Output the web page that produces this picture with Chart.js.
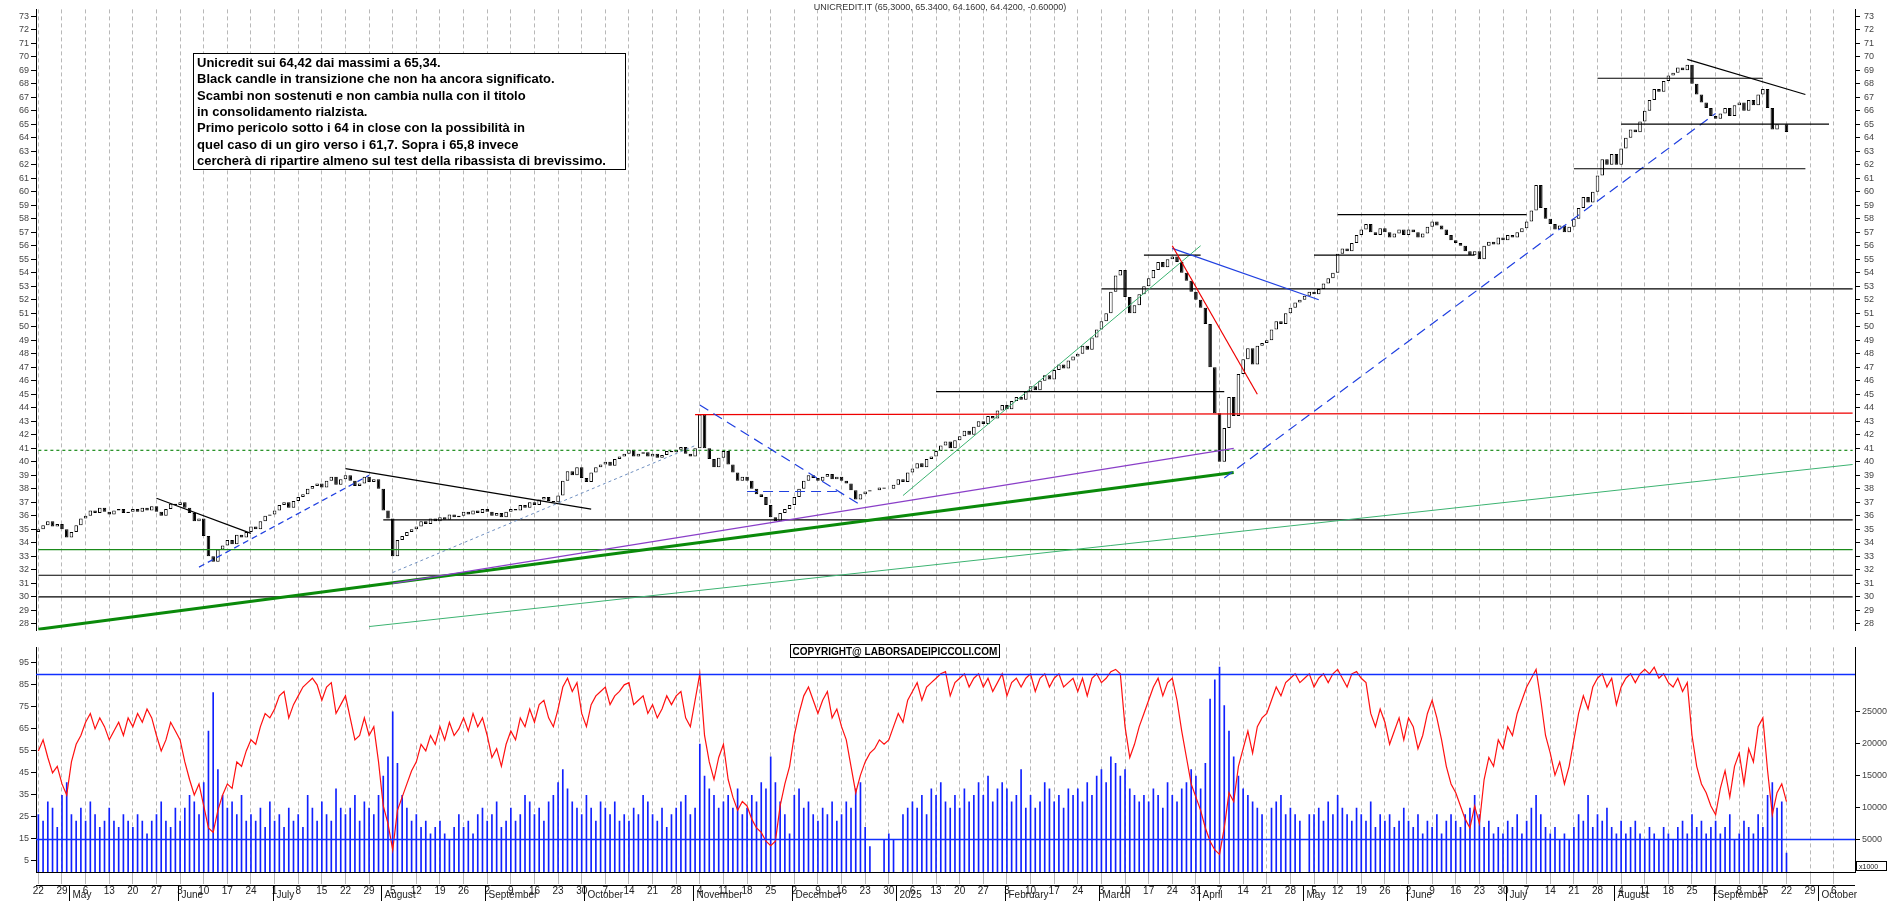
<!DOCTYPE html>
<html>
<head>
<meta charset="utf-8">
<script src="https://cdn.jsdelivr.net/npm/chart.js@4.4.1/dist/chart.umd.min.js"></script>
<style>
  body { margin: 0; background: #fff; }
  #top { position: absolute; left: 0; top: 0; }
  #bot { position: absolute; left: 0; top: 640px; }
</style>
</head>
<body>
<canvas id="top" width="1890" height="640"></canvas>
<canvas id="bot" width="1890" height="262"></canvas>
<script>
// closes, one line per week (Mon..Fri), from Mon 22 Apr 2024 to Mon 22 Sep 2025
const closes = [
  35.0,35.3,35.6,35.2,35.4, 35.0,34.4,34.8,35.3,35.8, 36.0,36.4,36.2,36.6,36.3, 36.1,36.4,36.5,36.2,36.3,
  36.5,36.3,36.6,36.4,36.7, 36.3,36.0,36.5,36.9,36.8, 37.0,36.6,36.2,35.6,35.8, 34.5,33.0,32.6,33.5,33.8,
  34.2,33.9,34.6,34.4,34.8, 35.2,35.0,35.6,36.0,36.1, 36.4,36.8,37.0,36.6,37.1, 37.4,37.6,38.0,38.2,38.4,
  38.1,38.6,38.9,38.3,38.7, 39.0,38.6,38.2,38.4,38.9, 38.5,38.7,38.0,36.4,35.8, 33.0,34.2,34.5,34.8,35.0,
  35.2,35.6,35.4,35.8,35.6, 35.9,35.7,36.1,35.9,36.0, 36.3,36.1,36.4,36.2,36.5, 36.3,36.0,36.2,35.9,36.3,
  36.5,36.4,36.8,36.6,37.0, 36.8,37.2,37.4,37.1,37.0, 37.5,38.6,39.3,39.0,39.6, 38.8,38.5,39.2,39.6,39.8,
  40.0,39.7,40.2,40.4,40.6, 40.9,40.4,40.6,40.7,40.4, 40.6,40.3,40.5,40.8,40.7, 40.9,41.1,40.6,40.4,41.0,
  43.5,41.0,40.2,39.6,40.3, 40.8,39.8,39.2,38.6,38.9, 38.6,38.0,37.6,37.4,36.8, 35.9,35.6,36.2,36.5,36.8,
  37.4,38.0,38.6,39.0,38.8, 38.6,38.9,39.1,38.7,38.9, 38.6,38.4,37.9,37.2,37.6, 37.8,37.9,37.9,38.1,38.0,
  38.0,38.3,38.7,38.5,39.2, 39.5,39.9,39.6,40.2,40.4, 40.8,41.2,41.5,41.0,41.6, 41.9,42.3,42.0,42.6,43.0,
  42.8,43.4,43.2,43.8,44.2, 43.9,44.5,44.8,44.6,45.2, 45.6,45.3,46.0,46.4,46.1, 46.8,47.2,46.9,47.5,47.8,
  48.0,48.6,48.3,49.2,49.8, 50.4,51.0,52.6,53.8,54.2, 52.2,51.0,51.6,52.4,53.0, 53.6,54.2,54.8,54.4,55.0,
  55.2,54.8,54.0,53.4,52.6, 52.0,51.4,50.2,47.0,43.6, 40.0,42.5,44.8,43.4,46.5, 47.6,48.4,47.2,48.6,48.8,
  49.0,49.8,50.4,50.2,51.0, 51.4,51.8,52.0,52.3,52.6, 52.4,52.8,53.2,53.6,54.0, 55.4,55.8,55.6,56.2,56.8,
  57.2,57.6,57.0,56.8,57.3, 57.0,56.6,56.9,57.2,56.8, 57.2,57.0,56.6,56.9,57.4, 57.8,57.5,57.2,56.8,56.4,
  56.2,56.0,55.6,55.3,55.6, 55.0,56.0,56.3,56.1,56.6, 56.4,56.8,56.6,57.0,57.3, 57.8,58.6,60.5,58.8,58.0,
  57.6,57.2,57.5,57.0,57.4, 58.0,58.8,59.6,59.2,60.0, 61.2,62.4,62.0,62.8,62.0, 63.2,64.0,64.6,64.4,65.2,
  66.0,66.8,67.6,67.4,68.2, 68.6,68.8,69.2,69.0,69.4, 68.0,67.2,66.6,66.2,65.6, 65.4,65.8,66.2,65.6,66.4,
  66.6,66.0,66.8,66.4,67.2, 67.6,66.2,64.6,65.0,65.0, 64.42
];
const firstOpen = 34.8;

// volume, thousands
const volume = [
  9,8,11,10,7, 12,14,9,8,10, 8,11,9,7,8, 10,8,7,9,8, 7,9,8,6,8, 9,11,8,7,10, 8,10,12,11,9, 14,22,28,16,12,
  10,11,9,12,8, 9,8,10,7,11, 8,9,7,10,8, 9,7,12,10,8, 11,9,8,13,10, 9,10,12,8,11, 10,9,12,15,18, 25,17,12,10,8,
  9,7,8,6,7, 8,6,5,7,9, 7,8,6,9,10, 8,9,11,7,8, 10,8,9,12,11, 9,10,8,11,12, 14,16,13,11,10, 9,12,10,8,11,
  10,9,11,8,9, 8,10,9,12,11, 9,8,10,7,9, 10,11,12,9,10, 20,15,13,12,10, 11,12,10,13,9, 10,12,11,14,13, 18,14,11,9,6,
  12,13,10,11,9, 8,10,9,11,8, 9,11,10,13,14, 7,4,0,0,5, 6,5,0,9,10, 11,10,12,9,13, 12,14,11,10,12, 10,13,11,12,14,
  12,15,11,13,14, 13,11,12,16,10, 12,10,11,14,13, 11,12,10,13,12, 13,11,14,12,15, 16,14,18,17,15, 16,13,12,11,12, 11,13,12,10,14,
  12,11,13,14,16, 15,13,17,27,30, 32,26,22,18,15, 13,12,11,10,9, 0,10,11,12,9, 10,9,8,0,9, 9,10,8,11,9, 12,10,9,8,10,
  9,8,11,7,9, 8,9,7,8,10, 8,7,9,6,8, 7,9,6,8,9, 8,7,9,10,12, 9,7,8,6,7, 6,8,7,9,6, 8,10,12,9,7,
  6,7,5,6,5, 7,9,8,12,7, 9,8,10,7,6, 8,6,7,8,6, 5,7,6,5,7, 6,5,7,8,6, 9,7,8,6,7, 8,6,7,9,5,
  6,8,7,6,9, 7,12,14,10,11, 3
];

// oscillator (red line)
const oscillator = [
  55,60,52,45,48, 40,35,50,58,62, 68,72,65,70,66, 60,64,68,62,70, 66,72,68,74,70, 62,55,60,68,64, 60,50,42,35,40, 30,20,18,28,35,
  40,38,50,48,55, 60,58,66,72,70, 74,80,82,70,76, 80,84,86,88,85, 78,84,86,72,76, 80,70,60,62,70, 62,66,50,30,22, 10,28,34,40,46,
  50,58,55,62,58, 66,60,68,62,65, 70,64,72,66,70, 62,52,56,48,58, 64,60,70,66,74, 68,76,78,70,66, 74,84,88,82,86, 72,66,76,80,82,
  84,76,80,82,85, 86,76,78,80,72, 76,70,74,80,76, 80,82,70,66,78, 90,62,50,42,52, 58,42,34,28,32, 30,24,20,18,14, 12,14,30,40,48,
  62,72,80,84,78, 72,78,82,70,74, 66,60,48,36,44, 50,54,56,60,58, 60,66,72,68,78, 82,86,78,84,86, 88,90,91,80,86, 88,90,84,88,90,
  84,88,82,86,90, 80,86,88,84,88, 90,82,88,90,84, 88,90,84,86,88, 82,88,80,88,90, 86,88,91,92,90, 66,52,58,66,72, 78,84,88,80,86,
  88,78,64,52,40, 34,28,20,14,10, 8,20,36,32,48, 56,64,54,66,70, 72,78,84,80,86, 88,90,86,88,90, 84,88,90,86,90, 92,88,84,90,91,
  88,86,72,66,74, 68,58,64,70,60, 70,66,56,62,72, 78,70,60,48,40, 36,30,24,20,30, 22,42,52,48,60, 56,66,62,72,78, 84,88,92,78,62,
  54,44,50,40,48, 60,72,80,74,84, 88,90,84,88,76, 84,88,90,86,90, 92,90,93,88,90, 86,84,88,82,86, 62,48,40,36,30, 26,38,46,34,48,
  54,40,56,50,66, 70,46,26,36,40, 32
];

const priceTicks = [28, 73];
const oscTicks = [5, 100];
const volTicks = [5000, 25000];

// trend lines: [from, price, to, price, colour, dash, width]
const trendLines = [
  ['2024-04-22', 30.0, '2025-10-10', 30.0, '#000', [], 1.2],
  ['2024-04-22', 31.6, '2025-10-10', 31.6, '#000', [], 1.2],
  ['2024-04-22', 33.5, '2025-10-10', 33.5, '#1a8a1a', [], 1.2],
  ['2024-08-01', 35.7, '2025-10-10', 35.7, '#000', [], 1.2],
  ['2024-04-22', 40.85, '2025-10-10', 40.85, '#1a8a1a', [3, 3], 1.2],
  ['2024-11-01', 43.5, '2025-10-10', 43.6, '#e00', [], 1.2],
  ['2025-03-03', 52.8, '2025-10-10', 52.8, '#000', [], 1.2],
  ['2024-04-22', 27.6, '2025-04-10', 39.2, '#0a8a0a', [], 3],
  ['2024-07-29', 27.8, '2025-10-10', 39.8, '#3cb371', [], 1],
  ['2024-08-05', 31.0, '2025-04-10', 41.0, '#8a3fc8', [], 1.2],
  ['2025-01-02', 37.5, '2025-04-01', 56.0, '#3cb371', [], 1],
  ['2025-04-08', 38.8, '2025-09-01', 65.8, '#2040e0', [10, 6], 1.2],
  ['2025-01-13', 45.2, '2025-04-08', 45.2, '#000', [], 1.2],
  ['2025-03-14', 55.3, '2025-04-01', 55.3, '#000', [], 1.2],
  ['2025-05-05', 55.3, '2025-06-20', 55.3, '#000', [], 1.2],
  ['2025-05-12', 58.3, '2025-07-07', 58.3, '#000', [], 1.2],
  ['2025-07-21', 61.7, '2025-09-26', 61.7, '#000', [], 1.2],
  ['2025-08-04', 65.0, '2025-10-03', 65.0, '#000', [], 1.2],
  ['2025-07-28', 68.4, '2025-09-15', 68.4, '#000', [], 1.2],
  ['2025-03-24', 55.8, '2025-05-06', 52.0, '#2040e0', [], 1.2],
  ['2025-03-24', 56.0, '2025-04-17', 45.0, '#e00', [], 1.2],
  ['2025-08-22', 69.8, '2025-09-26', 67.2, '#000', [], 1.2],
  ['2024-11-04', 44.2, '2024-12-20', 36.8, '#2040e0', [10, 6], 1.2],
  ['2024-11-18', 37.8, '2024-12-13', 37.8, '#2040e0', [10, 6], 1.2],
  ['2024-05-27', 37.3, '2024-06-24', 34.7, '#000', [], 1.2],
  ['2024-06-07', 32.2, '2024-07-29', 39.0, '#2040e0', [6, 4], 1.2],
  ['2024-07-22', 39.5, '2024-10-02', 36.5, '#000', [], 1.2],
  ['2024-08-05', 31.8, '2024-11-01', 41.2, '#7090c0', [3, 3], 1]
];

const noteLines = [
  'Unicredit sui 64,42 dai massimi a 65,34.',
  'Black candle in transizione che non ha ancora significato.',
  'Scambi non sostenuti e non cambia nulla con il titolo',
  'in consolidamento rialzista.',
  'Primo pericolo sotto i 64 in close con la possibilità in',
  'quel caso di un giro verso i 61,7. Sopra i 65,8 invece',
  'cercherà di ripartire almeno sul test della ribassista di brevissimo.'
];
const monthNames = ['January','February','March','April','May','June','July','August','September','October','November','December'];

// weekday calendar
const dates = [];
for (let d = new Date(Date.UTC(2024, 3, 22)); d <= new Date(Date.UTC(2025, 9, 10)); d.setUTCDate(d.getUTCDate() + 1)) {
  const wd = d.getUTCDay();
  if (wd !== 0 && wd !== 6) dates.push(new Date(d));
}
const labels = dates.map(d => d.toISOString().slice(0, 10));
const isMonday = i => dates[i] && dates[i].getUTCDay() === 1;

const candles = closes.map((c, i) => [i === 0 ? firstOpen : closes[i - 1], c]);

const FONT = 'Liberation Sans, Arial, sans-serif';
Chart.defaults.font.family = FONT;
Chart.defaults.animation = false;

const fixW = w => (s) => { s.width = w; };
const vGrid = {
  offset: false,
  drawTicks: false,
  color: c => isMonday(c.index) ? '#b8b8b8' : 'rgba(0,0,0,0)',
  lineWidth: 1
};

const topPlugin = {
  id: 'topDraw',
  afterDatasetsDraw(chart) {
    const { ctx, scales } = chart;
    const x = scales.x, y = scales.y;
    ctx.save();
    ctx.beginPath();
    ctx.rect(chart.chartArea.left, chart.chartArea.top, chart.chartArea.width, chart.chartArea.height);
    ctx.clip();
    trendLines.forEach(t => {
      ctx.beginPath();
      ctx.strokeStyle = t[4];
      ctx.setLineDash(t[5]);
      ctx.lineWidth = t[6];
      ctx.moveTo(x.getPixelForValue(labels.indexOf(t[0])), y.getPixelForValue(t[1]));
      ctx.lineTo(x.getPixelForValue(labels.indexOf(t[2])), y.getPixelForValue(t[3]));
      ctx.stroke();
    });
    ctx.restore();

    ctx.save();
    ctx.fillStyle = '#333';
    ctx.font = '9px ' + FONT;
    ctx.textAlign = 'center';
    ctx.fillText('UNICREDIT.IT (65.3000, 65.3400, 64.1600, 64.4200, -0.60000)', 940, 10);
    // note box
    ctx.fillStyle = '#fff';
    ctx.fillRect(193, 53, 432, 116);
    ctx.strokeStyle = '#000';
    ctx.lineWidth = 1;
    ctx.strokeRect(193.5, 53.5, 432, 116);
    ctx.fillStyle = '#000';
    ctx.font = 'bold 13px ' + FONT;
    ctx.textAlign = 'left';
    noteLines.forEach((l, i) => ctx.fillText(l, 197, 67 + i * 16.3));
    ctx.restore();
  }
};

new Chart(document.getElementById('top'), {
  type: 'bar',
  data: {
    labels: labels,
    datasets: [{
      data: candles,
      backgroundColor: candles.map(c => c[1] >= c[0] ? '#fff' : '#000'),
      borderColor: '#000',
      borderWidth: 1,
      borderSkipped: false,
      barPercentage: 0.75,
      categoryPercentage: 1
    }]
  },
  options: {
    responsive: false,
    devicePixelRatio: 1,
    layout: { padding: { top: 1, bottom: 0 } },
    plugins: { legend: { display: false }, tooltip: { enabled: false } },
    scales: {
      x: {
        ticks: { display: false, autoSkip: false },
        grid: vGrid,
        border: { display: false, dash: [4, 3] },
        afterFit: s => { s.height = 0; }
      },
      y: {
        position: 'right',
        min: priceTicks[0] - 0.5, max: priceTicks[1] + 0.5,
        afterBuildTicks: s => { s.ticks = []; for (let v = priceTicks[0]; v <= priceTicks[1]; v++) s.ticks.push({ value: v }); },
        ticks: { color: '#444', font: { size: 9 }, padding: 4 },
        grid: { drawOnChartArea: false, tickLength: 5, color: '#000' },
        border: { color: '#000' },
        afterFit: fixW(35)
      },
      yl: {
        position: 'left',
        min: priceTicks[0] - 0.5, max: priceTicks[1] + 0.5,
        afterBuildTicks: s => { s.ticks = []; for (let v = priceTicks[0]; v <= priceTicks[1]; v++) s.ticks.push({ value: v }); },
        ticks: { color: '#444', font: { size: 9 }, padding: 2 },
        grid: { drawOnChartArea: false, tickLength: 5, color: '#000' },
        border: { color: '#000' },
        afterFit: fixW(36)
      }
    }
  },
  plugins: [topPlugin]
});

const botPlugin = {
  id: 'botDraw',
  afterDatasetsDraw(chart) {
    const { ctx, scales, chartArea } = chart;
    const x = scales.x, yo = scales.yo;
    ctx.save();
    ctx.strokeStyle = '#1030ff';
    ctx.lineWidth = 1.5;
    [90, 15].forEach(v => {
      const py = Math.round(yo.getPixelForValue(v)) + 0.5;
      ctx.beginPath(); ctx.moveTo(chartArea.left, py); ctx.lineTo(chartArea.right, py); ctx.stroke();
    });
    // copyright
    ctx.fillStyle = '#fff';
    ctx.fillRect(790, 4, 209, 13);
    ctx.strokeStyle = '#000'; ctx.lineWidth = 1;
    ctx.strokeRect(790.5, 4.5, 209, 13);
    ctx.fillStyle = '#000';
    ctx.font = 'bold 10px ' + FONT;
    ctx.textAlign = 'center';
    ctx.fillText('COPYRIGHT@ LABORSADEIPICCOLI.COM', 895, 14.5);
    // month row
    const base = chartArea.bottom + 13;
    ctx.strokeStyle = '#000';
    ctx.beginPath(); ctx.moveTo(chartArea.left, base + 0.5); ctx.lineTo(chartArea.right, base + 0.5); ctx.stroke();
    ctx.font = '10px ' + FONT;
    ctx.textAlign = 'left';
    ctx.fillStyle = '#222';
    dates.forEach((d, i) => {
      if (i === 0 || d.getUTCMonth() === dates[i - 1].getUTCMonth()) return;
      const px = Math.round(x.getPixelForValue(i) - 2) + 0.5;
      ctx.beginPath(); ctx.moveTo(px, base); ctx.lineTo(px, base + 16); ctx.stroke();
      const name = d.getUTCMonth() === 0 ? String(d.getUTCFullYear()) : monthNames[d.getUTCMonth()];
      ctx.fillText(name, px + 3, base + 13);
    });
    ctx.font = '7px ' + FONT;
    ctx.strokeRect(chartArea.right + 1.5, chartArea.bottom - 10.5, 30, 9);
    ctx.fillText('x1000', chartArea.right + 4, chartArea.bottom - 3.5);
    ctx.restore();
  }
};

new Chart(document.getElementById('bot'), {
  data: {
    labels: labels,
    datasets: [
      {
        type: 'line',
        data: oscillator,
        yAxisID: 'yo',
        borderColor: '#ff1010',
        borderWidth: 1.2,
        pointRadius: 0,
        tension: 0
      },
      {
        type: 'bar',
        data: volume.map(v => v * 1000),
        yAxisID: 'yv',
        backgroundColor: '#1020ff',
        barPercentage: 0.35,
        categoryPercentage: 1
      }
    ]
  },
  options: {
    responsive: false,
    devicePixelRatio: 1,
    layout: { padding: { top: 2 } },
    plugins: { legend: { display: false }, tooltip: { enabled: false } },
    scales: {
      x: {
        ticks: {
          autoSkip: false, maxRotation: 0, padding: 1,
          color: '#222', font: { size: 10 },
          callback: (v, i) => isMonday(i) ? String(dates[i].getUTCDate()) : ''
        },
        grid: { offset: false, drawOnChartArea: true, tickLength: 12,
          color: c => isMonday(c.index) ? '#b8b8b8' : 'rgba(0,0,0,0)' },
        border: { color: '#000', dash: [4, 3] },
        afterFit: s => { s.height = 30; }
      },
      yo: {
        position: 'left',
        min: 0, max: 102,
        afterBuildTicks: s => { s.ticks = []; for (let v = oscTicks[0]; v <= oscTicks[1]; v += 5) s.ticks.push({ value: v }); },
        ticks: { color: '#444', font: { size: 9 }, padding: 2 },
        grid: { drawOnChartArea: false, tickLength: 5, color: '#000' },
        border: { color: '#000' },
        afterFit: fixW(36)
      },
      yv: {
        position: 'right',
        min: 0, max: 35000,
        afterBuildTicks: s => { s.ticks = []; for (let v = volTicks[0]; v <= volTicks[1]; v += 5000) s.ticks.push({ value: v }); },
        ticks: { color: '#444', font: { size: 9 }, padding: 2, callback: v => String(v) },
        grid: { drawOnChartArea: false, tickLength: 5, color: '#000' },
        border: { color: '#000' },
        afterFit: fixW(35)
      }
    }
  },
  plugins: [botPlugin]
});
</script>
</body>
</html>
